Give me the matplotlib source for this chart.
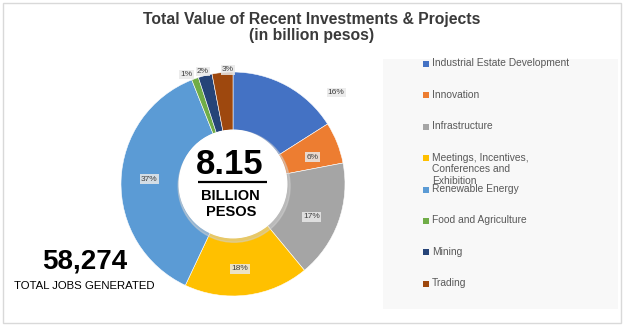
import matplotlib
matplotlib.use('Agg')
import matplotlib.pyplot as plt
from matplotlib.patches import Rectangle, Circle
import numpy as np

plt.rcParams['font.family'] = ['Liberation Sans', 'DejaVu Sans']

# data
sectors = ['Industrial Estate Development', 'Innovation', 'Infrastructure',
           'Meetings, Incentives,\nConferences and\nExhibition', 'Renewable Energy',
           'Food and Agriculture', 'Mining', 'Trading']
shares = [16, 6, 17, 18, 37, 1, 2, 3]
colors = ['#4472C4', '#ED7D31', '#A5A5A5', '#FFC000', '#5B9BD5', '#70AD47', '#264478', '#9E480E']
total_value = '8.15'
total_jobs = '58,274'

# label placement (radius, angle in deg) in pie data units
label_pos = [(1.23, 41.5), (0.75, 18.6), (0.76, -22.7), (0.76, -85.3),
             (0.75, 176.6), (1.06, 112.9), (1.04, 105.0), (1.02, 92.5)]

fig = plt.figure(figsize=(6.24, 3.26), dpi=100)
fig.patch.set_facecolor('white')
fig.add_artist(Rectangle((3 / 624, 3 / 326), 618 / 624, 320 / 326, transform=fig.transFigure,
                         fill=False, ec='#d9d9d9', lw=1))

fig.text(0.5, 0.9156, 'Total Value of Recent Investments & Projects\n(in billion pesos)',
         ha='center', va='center', fontsize=11.3, fontweight='bold', color='#3a3a3a',
         linespacing=1.15)

# donut
ax = fig.add_axes([104.2 / 624, 13.2 / 326, 257.6 / 624, 257.6 / 326])
wedges, _ = ax.pie(shares, colors=colors, startangle=90, counterclock=False, radius=1,
                   wedgeprops=dict(width=0.52, edgecolor='white', linewidth=0.4))
ax.set_xlim(-1.15, 1.15)
ax.set_ylim(-1.15, 1.15)
ax.set_aspect('equal')
ax.axis('off')

shadow = Circle((0.01, -0.02), 0.5, color='#d0d0d0', alpha=0.5, zorder=3)
ax.add_patch(shadow)
ax.add_patch(Circle((0, 0), 0.48, color='white', zorder=4))

for val, (r, ang) in zip(shares, label_pos):
    a = np.deg2rad(ang)
    ax.text(r * np.cos(a), r * np.sin(a), f'{val}%', ha='center', va='center',
            fontsize=6, color='#404040', zorder=6,
            bbox=dict(boxstyle='square,pad=0.15', fc='#e9e9e9', ec='none', alpha=0.85))

ax.text(-0.027, 0.17, total_value, ha='center', va='center', fontsize=25,
        fontweight='bold', color='black', zorder=5)
ax.plot([-0.31, 0.30], [0.02, 0.02], color='black', lw=1.6, zorder=5, solid_capstyle='butt')
ax.text(-0.02, -0.104, 'BILLION', ha='center', va='center', fontsize=10.5,
        fontweight='bold', color='black', zorder=5)
ax.text(-0.02, -0.247, 'PESOS', ha='center', va='center', fontsize=10.5,
        fontweight='bold', color='black', zorder=5)

fig.text(84.5 / 624, 1 - 261.7 / 326, total_jobs, ha='center', va='center',
         fontsize=20, fontweight='bold', color='black')
fig.text(84.5 / 624, 1 - 286 / 326, 'TOTAL JOBS GENERATED', ha='center', va='center',
         fontsize=8.2, color='black')

# legend panel
lax = fig.add_axes([383 / 624, 1 - 309 / 326, 235 / 624, 250 / 326])
lax.set_xlim(0, 235)
lax.set_ylim(250, 0)
lax.set_facecolor('#f8f8f8')
for s in lax.spines.values():
    s.set_visible(False)
lax.set_xticks([])
lax.set_yticks([])

for i, (name, c) in enumerate(zip(sectors, colors)):
    y = 5 + i * 31.4
    lax.scatter([43], [y], marker='s', s=18, color=c, linewidths=0)
    lax.text(49, y - 5.6, name, ha='left', va='top', fontsize=7.4, color='#595959',
             linespacing=1.2)

fig.savefig('out.png', dpi=100)
